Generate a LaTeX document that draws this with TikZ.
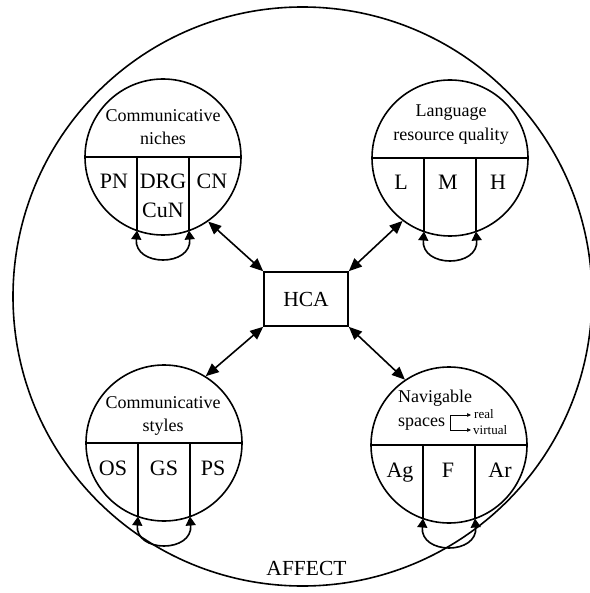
\documentclass[tikz,border=0pt]{standalone}
\usepackage{fontspec}
\setmainfont{Liberation Serif}
\usetikzlibrary{arrows.meta,calc}
\begin{document}
\begin{tikzpicture}[x=1pt,y=-1pt,
  ln/.style={line width=1.6pt},
  bigarrow/.style={ln,{Triangle[length=13pt,width=11pt]}-{Triangle[length=13pt,width=11pt]}},
  looparrow/.style={ln,{Triangle[length=9pt,width=10pt]}-{Triangle[length=9pt,width=10pt]}},
  smallarrow/.style={line width=0.6pt,-{Triangle[length=4pt,width=3.5pt]}},
  sub/.style={draw,circle,ln,minimum size=156pt,inner sep=0pt},
  ttl/.style={font=\fontsize{18}{22}\selectfont,anchor=base,inner sep=0pt},
  cell/.style={font=\fontsize{22}{26}\selectfont,anchor=base,inner sep=0pt},
  tiny/.style={font=\fontsize{13}{15}\selectfont,anchor=base west,inner sep=0pt},
]
\useasboundingbox (0,0) rectangle (589,593);
% outer circle
\node[draw,circle,ln,minimum size=579pt,inner sep=0pt] (affect) at (302.5,296.5) {};
\node[font=\fontsize{21.5}{26}\selectfont,anchor=base,inner sep=0pt] (affectlbl) at (306.5,575) {AFFECT};
% centre box
\node[draw,ln,minimum width=84pt,minimum height=54pt,font=\fontsize{21.5}{26}\selectfont] (hca) at (306,299) {HCA};
% sub circles
\node[sub] (tl) at (163,157) {};
\node[sub] (tr) at (450,158) {};
\node[sub] (bl) at (164,443) {};
\node[sub] (br) at (449,445) {};
\foreach \c in {tl,tr,bl,br}{
  \draw[ln] (\c.west) -- (\c.east);
  \draw[ln] ($(\c.center)+(-26,0)$) -- ($(\c.center)+(-26,73.5)$);
  \draw[ln] ($(\c.center)+(26,0)$) -- ($(\c.center)+(26,73.5)$);
  \draw[looparrow] ($(\c.center)+(-26,73.5)$) .. controls ($(\c.center)+(-29,110)$) and ($(\c.center)+(29,110)$) .. ($(\c.center)+(26,73.5)$);
}
% connectors
\draw[bigarrow] (hca.north west) -- (tl.-55);
\draw[bigarrow] (hca.north east) -- (tr.-127);
\draw[bigarrow] (hca.south west) -- (bl.58);
\draw[bigarrow] (hca.south east) -- (br.124);
% top left
\node[ttl] (tl1) at (163,122) {Communicative};
\node[ttl] (tl2) at (163,145) {niches};
\node[cell] (pn) at (114,189) {PN};
\node[cell] (drg) at (163,189) {DRG};
\node[cell] (cun) at (163,218) {CuN};
\node[cell] (cn) at (212,189) {CN};
% top right
\node[ttl] (tr1) at (451,117) {Language};
\node[ttl] (tr2) at (451,141) {resource quality};
\node[cell] (l) at (401,190) {L};
\node[cell] (m) at (448,190) {M};
\node[cell] (h) at (498,190) {H};
% bottom left
\node[ttl] (bl1) at (163,408) {Communicative};
\node[ttl] (bl2) at (163,431) {styles};
\node[cell] (os) at (113,475) {OS};
\node[cell] (gs) at (164,475) {GS};
\node[cell] (ps) at (213,475) {PS};
% bottom right
\node[ttl,anchor=base west] (br1) at (398,402) {Navigable};
\node[ttl,anchor=base west] (br2) at (398,426) {spaces};
\node[tiny] (real) at (474,418) {real};
\node[tiny] (virtual) at (473,434) {virtual};
\coordinate (bkt) at (450,415);
\coordinate (bkb) at (450,430);
\coordinate (bkte) at (471,415);
\coordinate (bkbe) at (471,430);
\draw[line width=0.6pt] (bkt) -- (bkb);
\draw[smallarrow] (bkt) -- (bkte);
\draw[smallarrow] (bkb) -- (bkbe);
\node[cell] (ag) at (400,477) {Ag};
\node[cell] (f) at (448,477) {F};
\node[cell] (ar) at (500,477) {Ar};
\end{tikzpicture}
\end{document}
